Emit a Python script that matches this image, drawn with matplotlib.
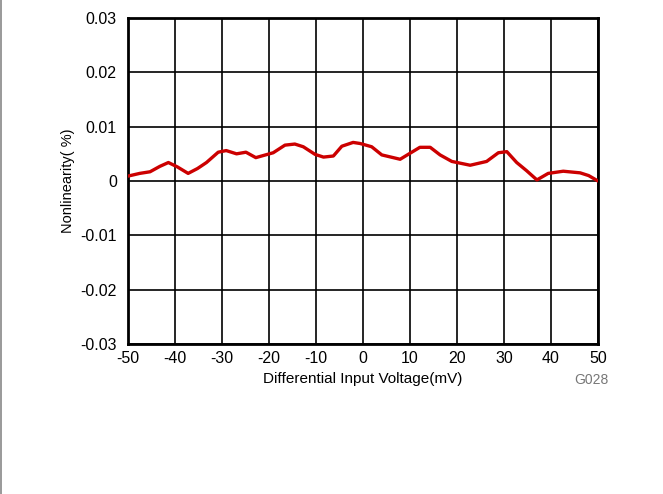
import numpy as np
import matplotlib.pyplot as plt
from matplotlib.lines import Line2D

plt.rcParams['font.family'] = ['Liberation Sans', 'DejaVu Sans']

# differential input voltage (mV) and nonlinearity (%)
voltage = [-50, -47.5, -45.3, -43.2, -41.4, -39.5, -37.2, -35.2, -33.3, -30.8,
           -29.1, -26.9, -24.9, -22.8, -19.1, -16.6, -14.5, -12.7, -10.2, -8.4,
           -6.3, -4.5, -2.1, -0.6, 1.85, 4.0, 7.9, 10.0, 12.1, 14.3,
           16.4, 18.9, 22.8, 26.3, 28.8, 30.6, 32.7, 34.8, 37.0, 39.4,
           42.6, 46.2, 48.0, 50]
nonlin = [0.0009, 0.0014, 0.0017, 0.0027, 0.0034, 0.0026, 0.0014, 0.0023, 0.0034, 0.0053,
          0.0056, 0.0050, 0.0053, 0.0043, 0.0052, 0.0066, 0.0068, 0.0063, 0.0049, 0.0044,
          0.0046, 0.0064, 0.0071, 0.0069, 0.0063, 0.0048, 0.0040, 0.0051, 0.0062, 0.0062,
          0.0048, 0.0036, 0.0029, 0.0036, 0.0052, 0.0054, 0.0034, 0.0019, 0.0002, 0.0014,
          0.0018, 0.0015, 0.0010, 0.0]

xticks = np.arange(-50, 51, 10)
yticks = [-0.03, -0.02, -0.01, 0, 0.01, 0.02, 0.03]
yticklabels = ['-0.03', '-0.02', '-0.01', '0', '0.01', '0.02', '0.03']

fig = plt.figure(figsize=(6.63, 4.94), dpi=100)
ax = fig.add_axes([0.193, 0.3036, 0.709, 0.66])

ax.plot(voltage, nonlin, color='#cc0000', lw=2.4, solid_joinstyle='round',
        solid_capstyle='round', zorder=3)

ax.set_xlim(-50, 50)
ax.set_ylim(-0.03, 0.03)
ax.set_xticks(xticks)
ax.set_xticklabels([str(t) for t in xticks])
ax.set_yticks(yticks)
ax.set_yticklabels(yticklabels)
ax.tick_params(axis='x', length=0, labelsize=11.5, pad=5)
ax.tick_params(axis='y', length=0, labelsize=11.5, pad=8)
ax.grid(True, color='black', lw=1.2)
for s in ax.spines.values():
    s.set_linewidth(2)
ax.set_xlabel('Differential Input Voltage(mV)', fontsize=11, labelpad=4)
ax.set_ylabel('Nonlinearity( %)', fontsize=10.5, labelpad=4)

fig.text(0.918, 0.231, 'G028', fontsize=10, color='#777777', ha='right', va='center')
fig.add_artist(Line2D([0.0015, 0.0015], [0, 1], transform=fig.transFigure,
                      color='#888888', lw=1.2))

fig.savefig('out.png', dpi=100)
